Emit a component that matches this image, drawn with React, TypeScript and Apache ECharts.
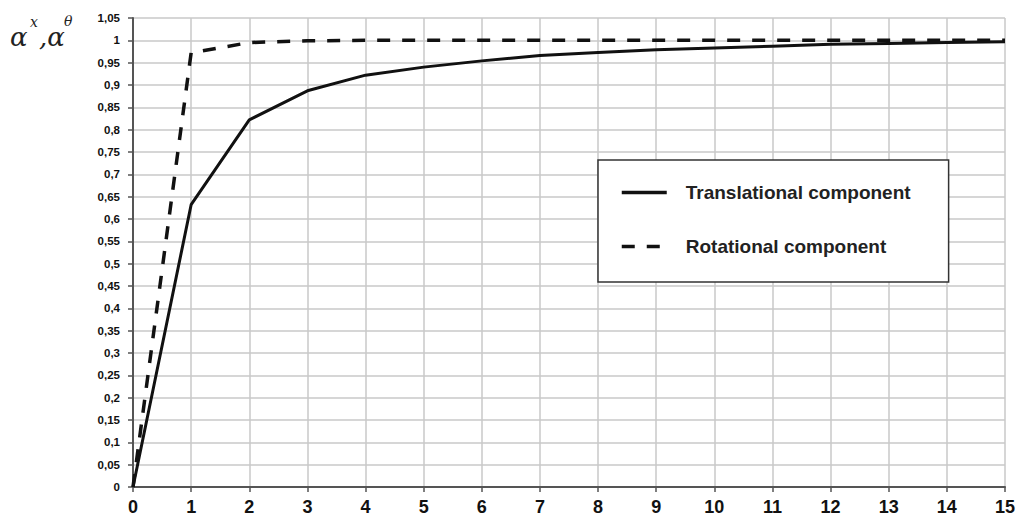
import React, { useEffect, useRef } from "react";
import * as echarts from "echarts";

const xValues = [0, 1, 2, 3, 4, 5, 6, 7, 8, 9, 10, 11, 12, 13, 14, 15];
const translational = [0, 0.632, 0.822, 0.887, 0.922, 0.94, 0.954, 0.966, 0.973, 0.979, 0.983, 0.987, 0.991, 0.993, 0.995, 0.997];
const rotational = [0, 0.972, 0.995, 0.999, 1, 1, 1, 1, 1, 1, 1, 1, 1, 1, 1, 1];
const seriesNames = ["Translational component", "Rotational component"];

export default function App() {
  const ref = useRef<HTMLDivElement>(null);
  useEffect(() => {
    const chart = echarts.init(ref.current!, undefined, { renderer: "svg" });
    const pair = (ys: number[]) => xValues.map((x, i) => [x, ys[i]]);
    chart.setOption({
      animation: false,
      backgroundColor: "#fff",
      grid: { left: 133, right: 15, top: 18, bottom: 37 },
      xAxis: {
        type: "value",
        min: 0,
        max: 15,
        interval: 1,
        axisLine: { show: true, onZero: false, lineStyle: { color: "#555", width: 2 } },
        axisTick: { show: true, length: 5, lineStyle: { color: "#555", width: 1.5 } },
        axisLabel: { color: "#111", fontSize: 18, fontWeight: "bold", fontFamily: "Liberation Sans, Arial", margin: 11 },
        splitLine: { show: true, lineStyle: { color: "#c8c8c8", width: 1.5 } },
      },
      yAxis: {
        type: "value",
        min: 0,
        max: 1.05,
        interval: 0.05,
        axisLine: { show: true, lineStyle: { color: "#555", width: 2 } },
        axisTick: { show: true, length: 5, lineStyle: { color: "#555", width: 1.5 } },
        axisLabel: {
          color: "#111",
          fontSize: 11.5,
          fontWeight: "bold",
          fontFamily: "Liberation Sans, Arial",
          margin: 13,
          formatter: (v: number) => String(+v.toFixed(2)).replace(".", ","),
        },
        splitLine: { show: true, lineStyle: { color: "#c8c8c8", width: 1.5 } },
      },
      legend: {
        data: seriesNames,
        orient: "vertical",
        left: 598,
        top: 160,
        padding: [23, 38, 26, 22],
        itemGap: 35,
        itemWidth: 45,
        itemHeight: 18,
        borderColor: "#333",
        borderWidth: 1.5,
        backgroundColor: "#fff",
        itemStyle: { opacity: 0 },
        lineStyle: { width: 3.5, color: "#111" },
        textStyle: {
          color: "#222",
          fontSize: 19,
          fontWeight: "bold",
          fontFamily: "Liberation Sans, Arial",
          padding: [0, 0, 0, 14],
        },
      },
      graphic: [
        { type: "text", left: 10, top: 24, style: { text: "α", font: "italic 26px 'DejaVu Serif', serif", fill: "#222" } },
        { type: "text", left: 30, top: 15, style: { text: "x", font: "italic 14px 'DejaVu Serif', serif", fill: "#222" } },
        { type: "text", left: 39, top: 24, style: { text: ",α", font: "italic 26px 'DejaVu Serif', serif", fill: "#222" } },
        { type: "text", left: 64, top: 14, style: { text: "θ", font: "italic 14px 'DejaVu Serif', serif", fill: "#222" } },
      ],
      series: [
        {
          name: seriesNames[0],
          type: "line",
          data: pair(translational),
          showSymbol: false,
          symbol: "none",
          smooth: false,
          color: "#111",
          lineStyle: { color: "#111", width: 3 },
          z: 3,
        },
        {
          name: seriesNames[1],
          type: "line",
          data: pair(rotational),
          showSymbol: false,
          symbol: "none",
          color: "#111",
          lineStyle: { color: "#111", width: 3.5, type: [13, 12] },
          z: 4,
        },
      ],
    });
    return () => chart.dispose();
  }, []);
  return <div ref={ref} style={{ width: 1020, height: 524, position: "absolute", left: 0, top: 0 }} />;
}
